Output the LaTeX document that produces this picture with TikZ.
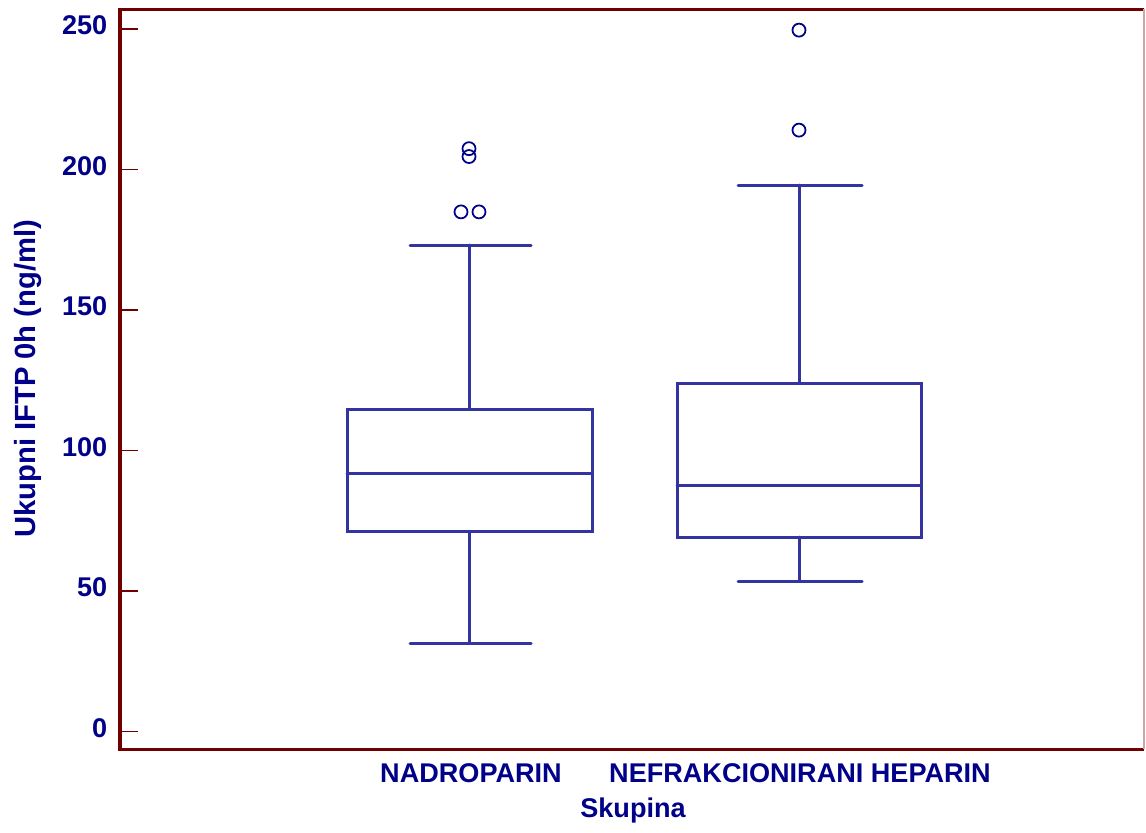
\documentclass[tikz,border=0pt]{standalone}
\usepackage{fontspec}
\setmainfont{Liberation Sans}

\definecolor{framered}{HTML}{700000}
\definecolor{boxblue}{HTML}{3434A0}
\definecolor{textblue}{HTML}{000088}

\tikzset{
  axisframe/.style={draw=framered, line width=0.9pt},
  tickline/.style={draw=framered, line width=0.45pt},
  ticklabel/.style={text=textblue, anchor=base east, inner sep=0pt},
  boxline/.style={draw=boxblue, line width=0.85pt, line cap=round},
  outlier/.style={draw=textblue, line width=0.5pt},
  axislabel/.style={text=textblue, inner sep=0pt}
}

\begin{document}
\begin{tikzpicture}[x=0.01cm, y=0.02808cm, font=\fontsize{7.7}{9}\selectfont\bfseries]
    \useasboundingbox (0,-35.97) rectangle (1146,260.33);

    % frame
    \draw[axisframe] (1144,257) -- (120,257) -- (120,-6.4) -- (1144,-6.4);
    \draw[draw=framered!35, line width=0.3pt] (1144,257) -- (1144,-6.4);

    % y axis
    \foreach \v in {0,50,...,250} {
        \draw[tickline] (121,\v) -- (138,\v);
        \node[ticklabel] (tick\v) at (108,\v-2.1) {\v};
    }
    \node[axislabel, rotate=90, font=\fontsize{8.3}{10}\selectfont\bfseries] (ylabel) at (28,125.5) {Ukupni IFTP 0h (ng/ml)};

    % nadroparin
    \draw[boxline] (347,71.2) rectangle (592,114.7);
    \draw[boxline] (347,91.9) -- (592,91.9);
    \draw[boxline] (469.5,114.7) -- (469.5,173.1);
    \draw[boxline] (410,173.1) -- (531,173.1);
    \draw[boxline] (469.5,71.2) -- (469.5,31.3);
    \draw[boxline] (410,31.3) -- (531,31.3);
    \draw[outlier] (461,184.9) circle[radius=0.065cm];
    \draw[outlier] (479,184.9) circle[radius=0.065cm];
    \draw[outlier] (469,204.6) circle[radius=0.065cm];
    \draw[outlier] (469,207.4) circle[radius=0.065cm];

    % nefrakcionirani heparin
    \draw[boxline] (677,69.1) rectangle (921,123.9);
    \draw[boxline] (677,87.6) -- (921,87.6);
    \draw[boxline] (799,123.9) -- (799,194.4);
    \draw[boxline] (738,194.4) -- (862,194.4);
    \draw[boxline] (799,69.1) -- (799,53.4);
    \draw[boxline] (738,53.4) -- (862,53.4);
    \draw[outlier] (799,214) circle[radius=0.065cm];
    \draw[outlier] (799,249.6) circle[radius=0.065cm];

    % x axis
    \node[axislabel, anchor=base] (grp1) at (471,-18.2) {NADROPARIN};
    \node[axislabel, anchor=base] (grp2) at (800,-18.2) {NEFRAKCIONIRANI HEPARIN};
    \node[axislabel, anchor=base] (xlabel) at (633,-30.6) {Skupina};
\end{tikzpicture}
\end{document}
